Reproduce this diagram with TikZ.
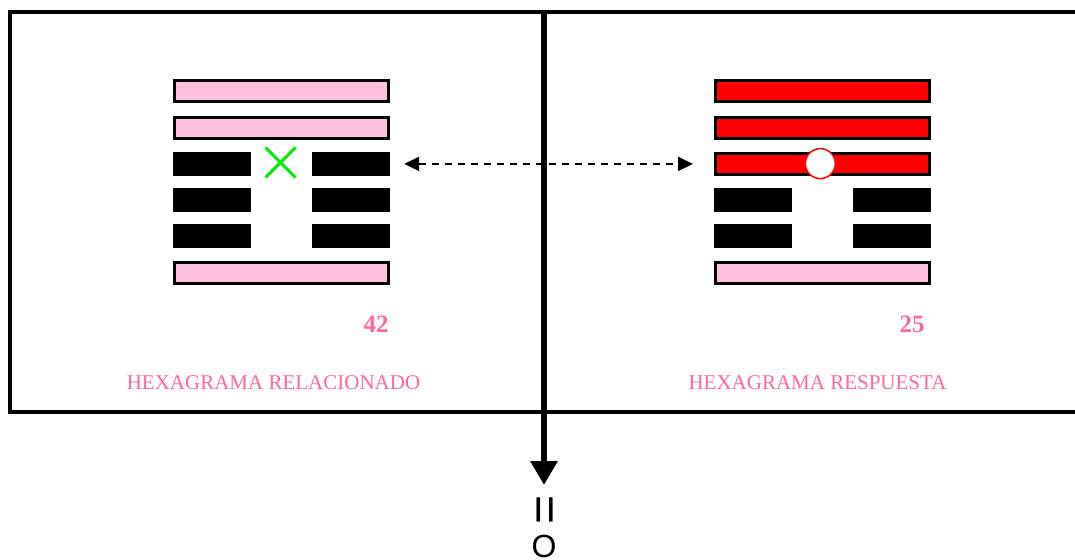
\documentclass[tikz,border=0pt]{standalone}
\usepackage{fontspec}
\setmainfont{Liberation Serif}
\newfontfamily\arialfont{Liberation Sans}
\usetikzlibrary{arrows.meta,shapes.misc}
\definecolor{yangpink}{RGB}{255,190,222}
\definecolor{labelpink}{RGB}{255,102,153}
\definecolor{xgreen}{RGB}{0,235,0}
\newcommand{\barlen}{214pt}
\newcommand{\halflen}{78pt}

\begin{document}
\begin{tikzpicture}[x=1pt,y=-1pt,
    yang/.style={draw, line width=3pt, minimum width=\barlen, minimum height=21pt, inner sep=0pt},
    yin/.style={fill=black, minimum width=\halflen, minimum height=24pt, inner sep=0pt},
    numlabel/.style={text=labelpink, font=\bfseries\fontsize{25}{25}\selectfont},
    title/.style={text=labelpink, font=\fontsize{21}{21}\selectfont},
    dasharrow/.style={line width=2pt, dash pattern=on 7pt off 6pt, {Triangle[length=15pt,width=14pt]}-{Triangle[length=15pt,width=14pt]}}]
      \useasboundingbox (0,0) rectangle (1075,559);
      \clip (0,0) rectangle (1075,559);
      \draw[line width=4pt] (10,12) rectangle (1095,412);

          %%  relacionado, 42 %%
      \foreach \k/\y in {1/91.5,2/127.7,6/272.5}
      { \node (l\k) at (281.5,\y) [yang, fill=yangpink] {};}
      \foreach \k/\y in {3/163.9,4/200.1,5/236.3}
      { \node (la\k) at (212,\y) [yin] {};
        \node (lb\k) at (351,\y) [yin] {};}
      \node (cross) at (280.5,162.5) [cross out, draw=xgreen, line width=3pt, minimum size=27pt, inner sep=0pt] {};

          %%  respuesta, 25 %%
      \foreach \k/\y in {1/91.5,2/127.7,3/163.9}
      { \node (r\k) at (822.5,\y) [yang, fill=red] {};}
      \node (r6) at (822.5,272.5) [yang, fill=yangpink] {};
      \foreach \k/\y in {4/200.1,5/236.3}
      { \node (ra\k) at (753,\y) [yin] {};
        \node (rb\k) at (892,\y) [yin] {};}
      \node (moving) at (820.3,163.6) [circle, draw=red, fill=white, line width=1.5pt, minimum size=30pt, inner sep=0pt] {};

      \draw[dasharrow, shorten <=14pt, shorten >=21pt] (lb3.east) -- (r3.west);

      \draw (376,324) node (num42) [numlabel] {42};
      \draw (912,324) node (num25) [numlabel] {25};
      \draw (273.5,383) node (tl) [title] {HEXAGRAMA RELACIONADO};
      \draw (817.5,383) node (tr) [title] {HEXAGRAMA RESPUESTA};

      \coordinate (divtop) at (544,12);
      \coordinate (divtip) at (544,485);
      \draw[line width=6pt, -{Triangle[length=24pt,width=26pt]}] (divtop) -- (divtip);
      \node (eq) at (549,510) [rotate=90, font=\arialfont\fontsize{50}{50}\selectfont] {=};
      \node (zero) at (544,546) [font=\arialfont\fontsize{32}{32}\selectfont] {O};
        \end{tikzpicture}
\end{document}
